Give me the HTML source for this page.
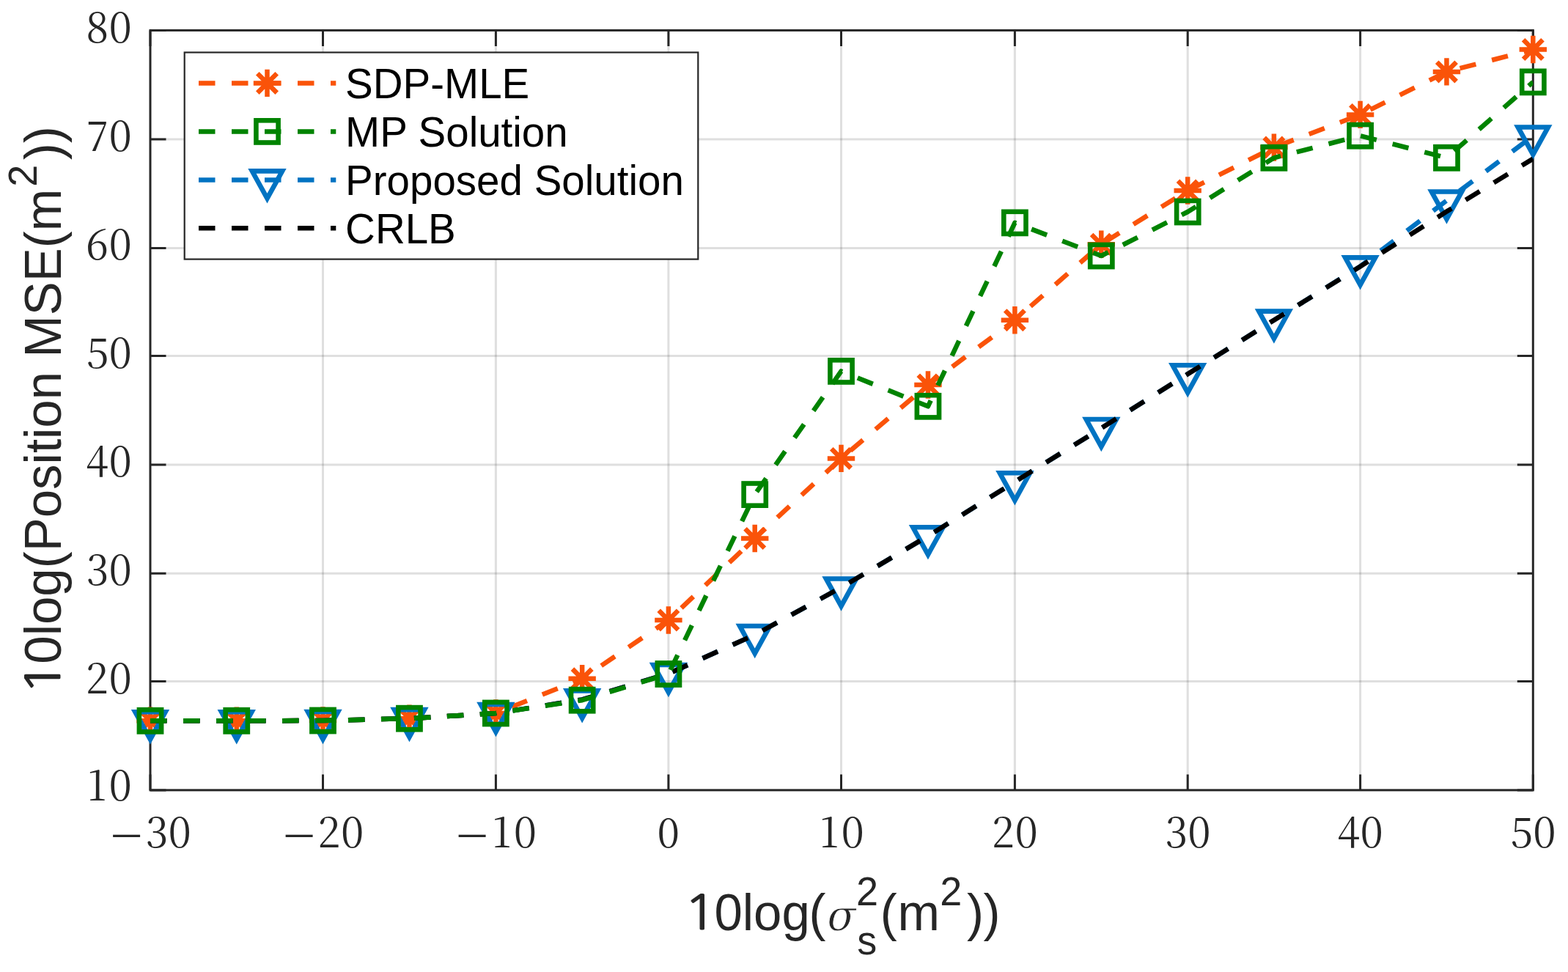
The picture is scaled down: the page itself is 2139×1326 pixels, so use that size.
<!DOCTYPE html><html><head><meta charset="utf-8"><style>html,body{margin:0;padding:0;background:#fff;overflow:hidden;width:2139px;height:1326px;}svg{display:block;}.tk{font-family:"Noto Serif CJK SC","Liberation Serif",serif;font-size:55.5px;fill:#262626;}.tm{font-family:"Liberation Serif",serif;font-size:63px;fill:#262626;}.lb{font-family:"Liberation Sans",Arial,sans-serif;font-size:69px;fill:#262626;}.lg{font-family:"Liberation Sans",Arial,sans-serif;font-size:56.5px;fill:#000;}</style></head><body>
<svg width="2139" height="1326" viewBox="0 0 2139 1326">
<rect width="2139" height="1326" fill="#fff"/>
<defs><clipPath id="ax"><rect x="205.00" y="41.40" width="1886.30" height="1036.50"/></clipPath></defs>
<path d="M440.50 41.40V1077.90M676.40 41.40V1077.90M911.90 41.40V1077.90M1147.50 41.40V1077.90M1384.40 41.40V1077.90M1620.20 41.40V1077.90M1855.60 41.40V1077.90" stroke="#262626" stroke-opacity="0.15" stroke-width="3" fill="none"/>
<path d="M205.00 929.60H2091.30M205.00 782.30H2091.30M205.00 634.10H2091.30M205.00 485.60H2091.30M205.00 338.40H2091.30M205.00 189.90H2091.30" stroke="#262626" stroke-opacity="0.15" stroke-width="3" fill="none"/>
<path d="M205.00 1077.90V1056.40M205.00 41.40V62.90M440.50 1077.90V1056.40M440.50 41.40V62.90M676.40 1077.90V1056.40M676.40 41.40V62.90M911.90 1077.90V1056.40M911.90 41.40V62.90M1147.50 1077.90V1056.40M1147.50 41.40V62.90M1384.40 1077.90V1056.40M1384.40 41.40V62.90M1620.20 1077.90V1056.40M1620.20 41.40V62.90M1855.60 1077.90V1056.40M1855.60 41.40V62.90M2091.30 1077.90V1056.40M2091.30 41.40V62.90M205.00 1077.90H226.50M2091.30 1077.90H2069.80M205.00 929.60H226.50M2091.30 929.60H2069.80M205.00 782.30H226.50M2091.30 782.30H2069.80M205.00 634.10H226.50M2091.30 634.10H2069.80M205.00 485.60H226.50M2091.30 485.60H2069.80M205.00 338.40H226.50M2091.30 338.40H2069.80M205.00 189.90H226.50M2091.30 189.90H2069.80M205.00 41.40H226.50M2091.30 41.40H2069.80" stroke="#262626" stroke-width="3" fill="none"/>
<rect x="205.00" y="41.40" width="1886.30" height="1036.50" stroke="#262626" stroke-width="3" fill="none"/>
<polyline points="205.00,983.30 322.75,983.30 440.50,983.00 558.45,980.20 676.40,973.00 794.15,925.80 911.90,846.00 1029.70,734.50 1147.50,625.40 1265.95,525.00 1384.40,436.70 1502.30,333.20 1620.20,260.00 1737.90,201.10 1855.60,156.40 1973.45,97.90 2091.30,67.50" stroke="#FA5309" stroke-width="6.50" fill="none" stroke-dasharray="22.5 22.5" stroke-linejoin="round" clip-path="url(#ax)"/>
<path d="M186.30 983.30L223.70 983.30M191.78 970.08L218.22 996.52M205.00 964.60L205.00 1002.00M218.22 970.08L191.78 996.52" stroke="#FA5309" stroke-width="6.50" fill="none"/>
<path d="M304.05 983.30L341.45 983.30M309.53 970.08L335.97 996.52M322.75 964.60L322.75 1002.00M335.97 970.08L309.53 996.52" stroke="#FA5309" stroke-width="6.50" fill="none"/>
<path d="M421.80 983.00L459.20 983.00M427.28 969.78L453.72 996.22M440.50 964.30L440.50 1001.70M453.72 969.78L427.28 996.22" stroke="#FA5309" stroke-width="6.50" fill="none"/>
<path d="M539.75 980.20L577.15 980.20M545.23 966.98L571.67 993.42M558.45 961.50L558.45 998.90M571.67 966.98L545.23 993.42" stroke="#FA5309" stroke-width="6.50" fill="none"/>
<path d="M657.70 973.00L695.10 973.00M663.18 959.78L689.62 986.22M676.40 954.30L676.40 991.70M689.62 959.78L663.18 986.22" stroke="#FA5309" stroke-width="6.50" fill="none"/>
<path d="M775.45 925.80L812.85 925.80M780.93 912.58L807.37 939.02M794.15 907.10L794.15 944.50M807.37 912.58L780.93 939.02" stroke="#FA5309" stroke-width="6.50" fill="none"/>
<path d="M893.20 846.00L930.60 846.00M898.68 832.78L925.12 859.22M911.90 827.30L911.90 864.70M925.12 832.78L898.68 859.22" stroke="#FA5309" stroke-width="6.50" fill="none"/>
<path d="M1011.00 734.50L1048.40 734.50M1016.48 721.28L1042.92 747.72M1029.70 715.80L1029.70 753.20M1042.92 721.28L1016.48 747.72" stroke="#FA5309" stroke-width="6.50" fill="none"/>
<path d="M1128.80 625.40L1166.20 625.40M1134.28 612.18L1160.72 638.62M1147.50 606.70L1147.50 644.10M1160.72 612.18L1134.28 638.62" stroke="#FA5309" stroke-width="6.50" fill="none"/>
<path d="M1247.25 525.00L1284.65 525.00M1252.73 511.78L1279.17 538.22M1265.95 506.30L1265.95 543.70M1279.17 511.78L1252.73 538.22" stroke="#FA5309" stroke-width="6.50" fill="none"/>
<path d="M1365.70 436.70L1403.10 436.70M1371.18 423.48L1397.62 449.92M1384.40 418.00L1384.40 455.40M1397.62 423.48L1371.18 449.92" stroke="#FA5309" stroke-width="6.50" fill="none"/>
<path d="M1483.60 333.20L1521.00 333.20M1489.08 319.98L1515.52 346.42M1502.30 314.50L1502.30 351.90M1515.52 319.98L1489.08 346.42" stroke="#FA5309" stroke-width="6.50" fill="none"/>
<path d="M1601.50 260.00L1638.90 260.00M1606.98 246.78L1633.42 273.22M1620.20 241.30L1620.20 278.70M1633.42 246.78L1606.98 273.22" stroke="#FA5309" stroke-width="6.50" fill="none"/>
<path d="M1719.20 201.10L1756.60 201.10M1724.68 187.88L1751.12 214.32M1737.90 182.40L1737.90 219.80M1751.12 187.88L1724.68 214.32" stroke="#FA5309" stroke-width="6.50" fill="none"/>
<path d="M1836.90 156.40L1874.30 156.40M1842.38 143.18L1868.82 169.62M1855.60 137.70L1855.60 175.10M1868.82 143.18L1842.38 169.62" stroke="#FA5309" stroke-width="6.50" fill="none"/>
<path d="M1954.75 97.90L1992.15 97.90M1960.23 84.68L1986.67 111.12M1973.45 79.20L1973.45 116.60M1986.67 84.68L1960.23 111.12" stroke="#FA5309" stroke-width="6.50" fill="none"/>
<path d="M2072.60 67.50L2110.00 67.50M2078.08 54.28L2104.52 80.72M2091.30 48.80L2091.30 86.20M2104.52 54.28L2078.08 80.72" stroke="#FA5309" stroke-width="6.50" fill="none"/>
<polyline points="205.00,983.30 322.75,983.30 440.50,983.00 558.45,980.20 676.40,973.00 794.15,954.40 911.90,919.00 1029.70,866.00 1147.50,801.50 1265.95,731.30 1384.40,657.30 1502.30,584.10 1620.20,510.30 1737.90,436.70 1855.60,363.40 1973.45,273.60 2091.30,185.50" stroke="#0073C2" stroke-width="6.50" fill="none" stroke-dasharray="22.5 22.5" stroke-linejoin="round" clip-path="url(#ax)"/>
<path d="M184.40 971.25L225.60 971.25L205.00 1008.60Z" stroke="#0073C2" stroke-width="6.60" fill="none" stroke-linejoin="miter" stroke-miterlimit="10"/>
<path d="M302.15 971.25L343.35 971.25L322.75 1008.60Z" stroke="#0073C2" stroke-width="6.60" fill="none" stroke-linejoin="miter" stroke-miterlimit="10"/>
<path d="M419.90 970.95L461.10 970.95L440.50 1008.30Z" stroke="#0073C2" stroke-width="6.60" fill="none" stroke-linejoin="miter" stroke-miterlimit="10"/>
<path d="M537.85 968.15L579.05 968.15L558.45 1005.50Z" stroke="#0073C2" stroke-width="6.60" fill="none" stroke-linejoin="miter" stroke-miterlimit="10"/>
<path d="M655.80 960.95L697.00 960.95L676.40 998.30Z" stroke="#0073C2" stroke-width="6.60" fill="none" stroke-linejoin="miter" stroke-miterlimit="10"/>
<path d="M773.55 942.35L814.75 942.35L794.15 979.70Z" stroke="#0073C2" stroke-width="6.60" fill="none" stroke-linejoin="miter" stroke-miterlimit="10"/>
<path d="M891.30 906.95L932.50 906.95L911.90 944.30Z" stroke="#0073C2" stroke-width="6.60" fill="none" stroke-linejoin="miter" stroke-miterlimit="10"/>
<path d="M1009.10 853.95L1050.30 853.95L1029.70 891.30Z" stroke="#0073C2" stroke-width="6.60" fill="none" stroke-linejoin="miter" stroke-miterlimit="10"/>
<path d="M1126.90 789.45L1168.10 789.45L1147.50 826.80Z" stroke="#0073C2" stroke-width="6.60" fill="none" stroke-linejoin="miter" stroke-miterlimit="10"/>
<path d="M1245.35 719.25L1286.55 719.25L1265.95 756.60Z" stroke="#0073C2" stroke-width="6.60" fill="none" stroke-linejoin="miter" stroke-miterlimit="10"/>
<path d="M1363.80 645.25L1405.00 645.25L1384.40 682.60Z" stroke="#0073C2" stroke-width="6.60" fill="none" stroke-linejoin="miter" stroke-miterlimit="10"/>
<path d="M1481.70 572.05L1522.90 572.05L1502.30 609.40Z" stroke="#0073C2" stroke-width="6.60" fill="none" stroke-linejoin="miter" stroke-miterlimit="10"/>
<path d="M1599.60 498.25L1640.80 498.25L1620.20 535.60Z" stroke="#0073C2" stroke-width="6.60" fill="none" stroke-linejoin="miter" stroke-miterlimit="10"/>
<path d="M1717.30 424.65L1758.50 424.65L1737.90 462.00Z" stroke="#0073C2" stroke-width="6.60" fill="none" stroke-linejoin="miter" stroke-miterlimit="10"/>
<path d="M1835.00 351.35L1876.20 351.35L1855.60 388.70Z" stroke="#0073C2" stroke-width="6.60" fill="none" stroke-linejoin="miter" stroke-miterlimit="10"/>
<path d="M1952.85 261.55L1994.05 261.55L1973.45 298.90Z" stroke="#0073C2" stroke-width="6.60" fill="none" stroke-linejoin="miter" stroke-miterlimit="10"/>
<path d="M2070.70 173.45L2111.90 173.45L2091.30 210.80Z" stroke="#0073C2" stroke-width="6.60" fill="none" stroke-linejoin="miter" stroke-miterlimit="10"/>
<polyline points="205.00,983.30 322.75,983.30 440.50,983.00 558.45,980.20 676.40,973.00 794.15,954.40 911.90,919.00 1029.70,866.00 1147.50,801.50 1265.95,731.30 1384.40,657.30 1502.30,584.10 1620.20,510.30 1737.90,436.70 1855.60,363.60 1973.45,288.60 2091.30,216.50" stroke="#000000" stroke-width="6.50" fill="none" stroke-dasharray="22.5 22.5" stroke-linejoin="round" clip-path="url(#ax)"/>
<polyline points="205.00,983.30 322.75,983.30 440.50,983.00 558.45,980.20 676.40,973.00 794.15,955.20 911.90,919.50 1029.70,674.60 1147.50,506.40 1265.95,554.30 1384.40,303.90 1502.30,349.00 1620.20,289.00 1737.90,215.30 1855.60,185.20 1973.45,215.30 2091.30,111.90" stroke="#008300" stroke-width="6.50" fill="none" stroke-dasharray="22.5 22.5" stroke-linejoin="round" clip-path="url(#ax)"/>
<rect x="189.90" y="968.20" width="30.20" height="30.20" stroke="#008300" stroke-width="6.60" fill="none"/>
<rect x="307.65" y="968.20" width="30.20" height="30.20" stroke="#008300" stroke-width="6.60" fill="none"/>
<rect x="425.40" y="967.90" width="30.20" height="30.20" stroke="#008300" stroke-width="6.60" fill="none"/>
<rect x="543.35" y="965.10" width="30.20" height="30.20" stroke="#008300" stroke-width="6.60" fill="none"/>
<rect x="661.30" y="957.90" width="30.20" height="30.20" stroke="#008300" stroke-width="6.60" fill="none"/>
<rect x="779.05" y="940.10" width="30.20" height="30.20" stroke="#008300" stroke-width="6.60" fill="none"/>
<rect x="896.80" y="904.40" width="30.20" height="30.20" stroke="#008300" stroke-width="6.60" fill="none"/>
<rect x="1014.60" y="659.50" width="30.20" height="30.20" stroke="#008300" stroke-width="6.60" fill="none"/>
<rect x="1132.40" y="491.30" width="30.20" height="30.20" stroke="#008300" stroke-width="6.60" fill="none"/>
<rect x="1250.85" y="539.20" width="30.20" height="30.20" stroke="#008300" stroke-width="6.60" fill="none"/>
<rect x="1369.30" y="288.80" width="30.20" height="30.20" stroke="#008300" stroke-width="6.60" fill="none"/>
<rect x="1487.20" y="333.90" width="30.20" height="30.20" stroke="#008300" stroke-width="6.60" fill="none"/>
<rect x="1605.10" y="273.90" width="30.20" height="30.20" stroke="#008300" stroke-width="6.60" fill="none"/>
<rect x="1722.80" y="200.20" width="30.20" height="30.20" stroke="#008300" stroke-width="6.60" fill="none"/>
<rect x="1840.50" y="170.10" width="30.20" height="30.20" stroke="#008300" stroke-width="6.60" fill="none"/>
<rect x="1958.35" y="200.20" width="30.20" height="30.20" stroke="#008300" stroke-width="6.60" fill="none"/>
<rect x="2076.20" y="96.80" width="30.20" height="30.20" stroke="#008300" stroke-width="6.60" fill="none"/>
<text class="tm" transform="translate(150.30,1161.1) scale(1.261,1)">−</text>
<text class="tk" x="198.76 229.72" y="1155.50">30</text>
<text class="tm" transform="translate(385.80,1161.1) scale(1.261,1)">−</text>
<text class="tk" x="433.29 465.22" y="1155.50">20</text>
<text class="tm" transform="translate(621.70,1161.1) scale(1.261,1)">−</text>
<text class="tk" x="671.36 701.12" y="1155.50">10</text>
<text class="tk" x="896.47" y="1155.50">0</text>
<text class="tk" x="1118.01 1147.77" y="1155.50">10</text>
<text class="tk" x="1352.74 1384.67" y="1155.50">20</text>
<text class="tk" x="1589.52 1620.47" y="1155.50">30</text>
<text class="tk" x="1824.14 1855.87" y="1155.50">40</text>
<text class="tk" x="2060.45 2091.57" y="1155.50">50</text>
<text class="tk" x="119.01 148.77" y="1092.40">10</text>
<text class="tk" x="116.84 148.77" y="946.20">20</text>
<text class="tk" x="117.82 148.77" y="798.10">30</text>
<text class="tk" x="117.04 148.77" y="650.40">40</text>
<text class="tk" x="117.65 148.77" y="502.20">50</text>
<text class="tk" x="117.12 148.77" y="354.10">60</text>
<text class="tk" x="117.73 148.77" y="206.00">70</text>
<text class="tk" x="117.26 148.77" y="58.00">80</text>
<g transform="translate(83.3,944.1) rotate(-90)">
<text transform="translate(-4.3,-1.1) scale(1.18,1)" style="font-family:NanumGothic,sans-serif;font-size:64.6px;fill:#262626;stroke:#262626;stroke-width:1px">1</text>
<g transform="scale(1,1.015)"><text class="lb" x="38.4" y="0">0log(Position MSE(m<tspan x="689.4" y="-32.41" font-size="54px">2</tspan><tspan x="725.8" y="0">))</tspan></text></g></g>
<text transform="translate(932.3,1268.3) scale(1.18,1)" style="font-family:NanumGothic,sans-serif;font-size:64.6px;fill:#262626;stroke:#262626;stroke-width:1px">1</text>
<g transform="translate(0,1269.5) scale(1,1.015) translate(0,-1269.5)">
<text class="lb" x="974.4" y="1269.5">0log<tspan x="1103.5">(</tspan><tspan x="1168" y="1235.12" font-size="54px">2</tspan><tspan x="1169.3" y="1301.82" font-size="54px">s</tspan><tspan x="1200.65" y="1269.5">(</tspan><tspan x="1224.4">m</tspan><tspan x="1282.3" y="1235.31" font-size="54px">2</tspan><tspan x="1319.05" y="1269.5">)</tspan><tspan x="1341.5">)</tspan></text></g>
<text x="1128.50" y="1269.4" style="font-family:'DejaVu Serif',serif;font-style:italic;font-size:57px;fill:#262626;stroke:#fff;stroke-width:0.8px">σ</text>
<rect x="251.70" y="71.50" width="700.60" height="282.10" fill="#fff" stroke="#262626" stroke-width="2.2"/>
<path d="M271 113.40H458.3" stroke="#FA5309" stroke-width="6.50" stroke-dasharray="22.5 22.5" fill="none"/>
<path d="M345.80 113.40L383.20 113.40M351.28 100.18L377.72 126.62M364.50 94.70L364.50 132.10M377.72 100.18L351.28 126.62" stroke="#FA5309" stroke-width="6.50" fill="none"/>
<text class="lg" x="471.1" y="133.80">SDP-MLE</text>
<path d="M271 179.40H458.3" stroke="#008300" stroke-width="6.50" stroke-dasharray="22.5 22.5" fill="none"/>
<rect x="349.40" y="164.30" width="30.20" height="30.20" stroke="#008300" stroke-width="6.60" fill="none"/>
<text class="lg" x="471.1" y="199.80">MP Solution</text>
<path d="M271 245.40H458.3" stroke="#0073C2" stroke-width="6.50" stroke-dasharray="22.5 22.5" fill="none"/>
<path d="M343.90 233.35L385.10 233.35L364.50 270.70Z" stroke="#0073C2" stroke-width="6.60" fill="none" stroke-linejoin="miter" stroke-miterlimit="10"/>
<text class="lg" x="471.1" y="265.80">Proposed Solution</text>
<path d="M271 311.30H458.3" stroke="#000000" stroke-width="6.50" stroke-dasharray="22.5 22.5" fill="none"/>
<text class="lg" x="471.1" y="331.70">CRLB</text>
</svg></body></html>
